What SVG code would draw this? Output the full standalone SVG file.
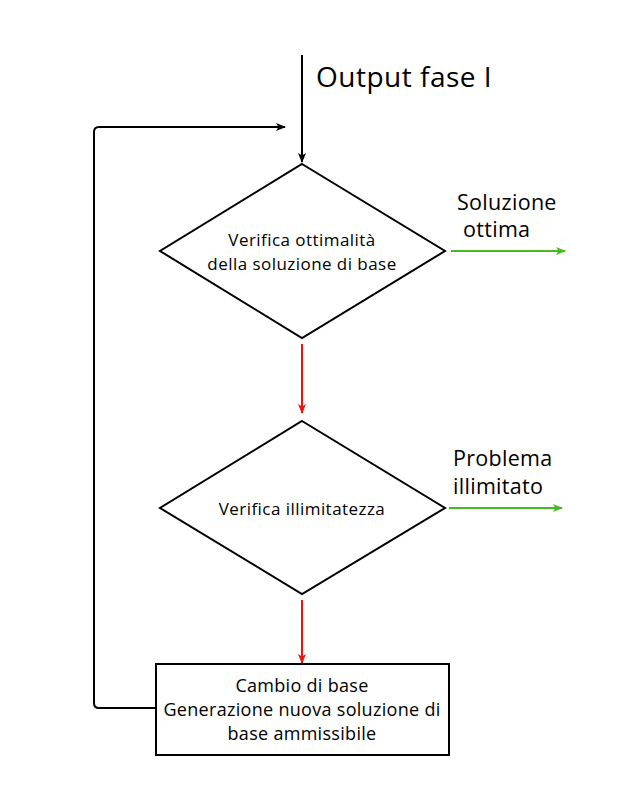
<svg xmlns="http://www.w3.org/2000/svg" width="627" height="797" viewBox="0 0 627 797">
<style>
.shape{fill:#ffffff;stroke:#000000;stroke-width:2}
.txt{font-family:"Open Sans","Noto Sans",sans-serif;fill:#000000}
.d{font-size:17px;letter-spacing:0.45px}
.l{font-size:21.5px;letter-spacing:0.3px}
.b{font-size:18px;letter-spacing:0.3px}
.c{stroke-width:2;fill:none}
.blk{stroke:#000000}
.red{stroke:#e8140f}
.grn{stroke:#44bb22}
</style>
<defs>
<marker id="ab" viewBox="0 0 10 10" refX="9" refY="5" markerWidth="10" markerHeight="10" markerUnits="userSpaceOnUse" orient="auto"><path d="M0,1 L10,5 L0,9 L2.5,5 Z" fill="#000000"/></marker>
<marker id="ar" viewBox="0 0 10 10" refX="9" refY="5" markerWidth="10" markerHeight="10" markerUnits="userSpaceOnUse" orient="auto"><path d="M0,1 L10,5 L0,9 L2.5,5 Z" fill="#e8140f"/></marker>
<marker id="ag" viewBox="0 0 10 10" refX="9" refY="5" markerWidth="10" markerHeight="10" markerUnits="userSpaceOnUse" orient="auto"><path d="M0,1 L10,5 L0,9 L2.5,5 Z" fill="#44bb22"/></marker>
</defs>
<g id="connectors">
<path class="c blk" d="M302,55 L302,162" marker-end="url(#ab)"/>
<path class="c blk" d="M155,708 L99,708 Q94,708 94,703 L94,132 Q94,127 99,127 L285,127" marker-end="url(#ab)"/>
<path class="c red" d="M302,344 L302,413" marker-end="url(#ar)"/>
<path class="c red" d="M302,600 L302,663" marker-end="url(#ar)"/>
<path class="c grn" d="M451,251 L565,251" marker-end="url(#ag)"/>
<path class="c grn" d="M449,508 L562,508" marker-end="url(#ag)"/>
</g>
<g id="label-output">
<text class="txt" x="316" y="87" font-size="28" letter-spacing="0.5">Output fase I</text>
</g>
<g id="node-verifica-ottimalita">
<polygon class="shape" points="302,164 445,251 302,338 160,251"/>
<text class="txt d" x="302" y="246" text-anchor="middle">Verifica ottimalità</text>
<text class="txt d" x="302" y="270" text-anchor="middle">della soluzione di base</text>
</g>
<g id="label-soluzione-ottima">
<text class="txt l" x="457" y="210">Soluzione</text>
<text class="txt l" x="463" y="237">ottima</text>
</g>
<g id="node-verifica-illimitatezza">
<polygon class="shape" points="302,421 445,508 302,594 160,508"/>
<text class="txt d" x="302" y="515" text-anchor="middle">Verifica illimitatezza</text>
</g>
<g id="label-problema-illimitato">
<text class="txt l" x="453" y="466">Problema</text>
<text class="txt l" x="453" y="494">illimitato</text>
</g>
<g id="node-cambio-base">
<rect class="shape" x="156" y="664" width="293" height="91"/>
<text class="txt b" x="302" y="692" text-anchor="middle">Cambio di base</text>
<text class="txt b" x="302" y="716" text-anchor="middle">Generazione nuova soluzione di</text>
<text class="txt b" x="302" y="740" text-anchor="middle">base ammissibile</text>
</g>
</svg>
